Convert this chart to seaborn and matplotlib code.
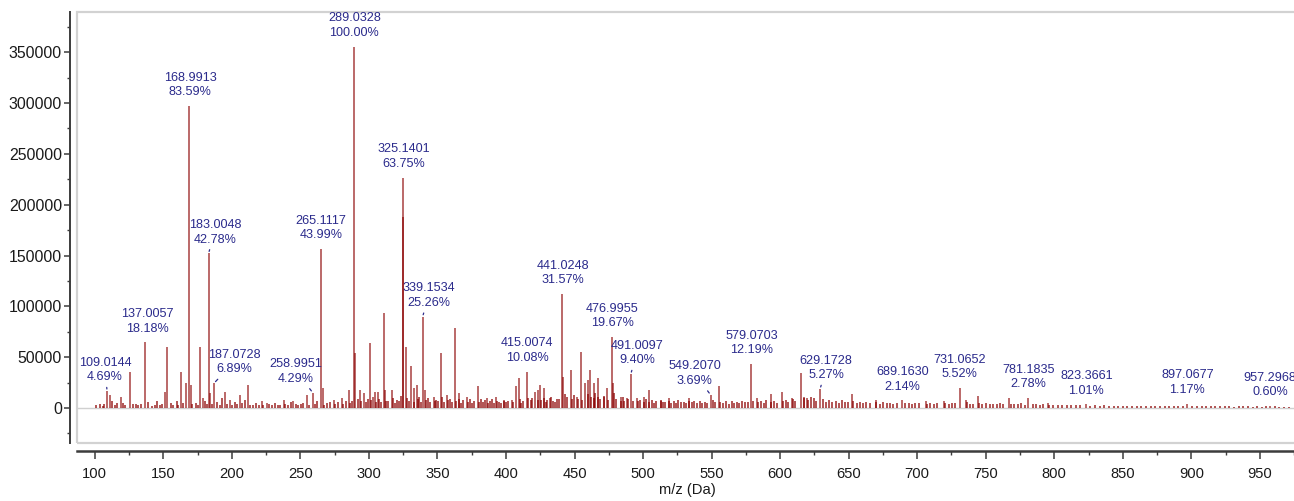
import matplotlib
matplotlib.use("Agg")
import matplotlib.pyplot as plt
from matplotlib import font_manager as fm
from matplotlib.ticker import MultipleLocator, FuncFormatter, FixedLocator
from matplotlib.patches import Rectangle
import seaborn as sns
import pandas as pd

# ---------------- data ----------------
label_mz = [109.0144, 137.0057, 168.9913, 183.0048, 187.0728, 258.9951, 265.1117,
            289.0328, 325.1401, 339.1534, 415.0074, 441.0248, 476.9955, 491.0097,
            549.2070, 579.0703, 629.1728, 689.1630, 731.0652, 781.1835, 823.3661,
            897.0677, 957.2968]
label_pct = [4.69, 18.18, 83.59, 42.78, 6.89, 4.29, 43.99,
             100.00, 63.75, 25.26, 10.08, 31.57, 19.67, 9.40,
             3.69, 12.19, 5.27, 2.14, 5.52, 2.78, 1.01,
             1.17, 0.60]
base_intensity = 355600

other_mz = [111.1, 119.1, 125.6, 151.3, 153.0, 163.0, 166.7, 170.3, 176.9, 179.3,
            184.2, 195.1, 198.8, 206.1, 211.7, 221.9, 225.5, 237.8, 245.0, 254.8,
            266.4, 274.3, 280.4, 285.2, 289.9, 293.7, 296.8, 301.0, 302.7, 304.6,
            307.0, 310.8, 312.0, 316.9, 324.6, 327.3, 331.0, 332.6, 335.0, 341.1,
            347.2, 352.6, 357.0, 363.1, 365.5, 371.6, 379.3, 386.2, 393.0, 398.4,
            404.5, 407.6, 409.3, 421.5, 423.1, 425.1, 427.5, 432.4, 441.5, 447.5,
            451.9, 455.1, 458.0, 459.7, 461.6, 464.0, 467.2, 471.3, 473.9, 478.2,
            483.6, 488.4, 495.7, 500.5, 504.2, 512.8, 518.9, 533.4, 555.4, 583.4,
            593.1, 601.6, 608.9, 615.3, 617.5, 619.9, 652.7, 669.8, 706.3, 719.6,
            735.6, 744.7, 767.2, 795.2]
other_int = [12800, 11100, 35800, 16000, 60400, 35800, 24600, 22700, 60400, 10000,
             15000, 16000, 8000, 13000, 22700, 6500, 5000, 8000, 6500, 13000,
             19700, 8000, 9500, 17700, 54000, 18000, 15000, 63800, 11000, 16000,
             16000, 93400, 17700, 17700, 188000, 60400, 41000, 19700, 23000, 17700,
             11000, 54000, 13000, 78600, 15000, 11000, 21700, 9900, 11000, 8000,
             8000, 21700, 29300, 16000, 17700, 22700, 19700, 9900, 30900, 37500,
             11000, 55500, 24700, 27900, 37500, 24700, 29300, 11000, 19700, 24700,
             11000, 9900, 9900, 11000, 18000, 6500, 9900, 10000, 21500, 10000,
             14000, 15500, 10000, 34800, 11000, 10000, 14000, 8000, 6600, 6600,
             8000, 12000, 9500, 5000]

noise_mz = [101.2, 103.5, 105.8, 107.1, 112.4, 114.9, 116.2, 120.7, 122.3, 127.6,
            129.8, 131.4, 133.9, 139.2, 141.5, 143.8, 145.3, 147.6, 149.1, 155.4,
            157.2, 159.8, 161.1, 164.4, 171.3, 173.6, 175.2, 180.1, 181.7, 185.5,
            189.3, 191.2, 192.8, 196.5, 200.4, 202.1, 203.9, 207.3, 209.5, 213.2,
            215.6, 217.4, 219.8, 223.1, 227.3, 229.5, 231.2, 233.8, 235.4, 239.1,
            241.3, 242.9, 246.5, 248.2, 250.6, 252.3, 256.1, 260.8, 262.4, 267.3,
            269.1, 271.4, 275.2, 277.5, 281.3, 283.0, 286.2, 287.6, 291.8, 294.5,
            297.7, 299.1, 301.4, 305.0, 307.6, 308.9, 312.8, 314.3, 317.5, 319.2,
            320.6, 322.1, 323.3, 327.8, 328.9, 332.7, 335.6, 336.9, 338.0, 341.6,
            343.2, 344.8, 347.9, 349.3, 350.5, 353.1, 354.6, 357.4, 359.2, 360.8,
            363.5, 366.1, 367.4, 368.9, 372.2, 373.8, 375.3, 376.9, 380.1, 381.6,
            383.2, 384.4, 386.7, 388.1, 389.6, 391.0, 393.5, 395.1, 396.3, 398.8,
            400.2, 401.7, 405.1, 409.9, 411.3, 412.7, 416.4, 417.9, 419.2, 423.2,
            425.3, 427.8, 429.1, 430.2, 432.6, 434.1, 435.5, 437.0, 438.4, 443.2,
            444.7, 448.1, 449.5, 452.3, 455.4, 459.7, 461.7, 464.2, 465.2, 467.4,
            468.8, 471.3, 474.1, 479.1, 480.6, 483.8, 485.3, 486.1, 488.7, 492.5,
            496.1, 497.6, 500.8, 502.1, 504.6, 506.2, 507.9, 509.4, 512.8, 514.3,
            516.1, 519.2, 520.7, 522.3, 524.1, 525.8, 527.4, 529.6, 531.2, 533.8,
            535.4, 537.1, 539.3, 541.6, 543.2, 545.1, 546.7, 550.9, 552.6, 556.2,
            558.1, 560.3, 562.4, 564.7, 566.2, 568.5, 570.3, 572.1, 574.4, 576.2,
            580.4, 583.6, 585.7, 587.9, 589.8, 593.4, 595.6, 597.8, 602.3, 604.5,
            606.1, 609.3, 611.2, 617.1, 620.4, 622.6, 624.8, 626.1, 631.2, 633.5,
            635.8, 638.1, 640.4, 642.7, 645.3, 647.6, 649.4, 653.2, 655.8, 658.1,
            660.4, 662.9, 665.3, 670.2, 672.8, 675.4, 677.9, 680.3, 682.6, 685.1,
            691.4, 693.8, 696.3, 698.7, 701.2, 707.1, 709.6, 712.3, 714.8, 720.4,
            723.1, 725.7, 727.9, 736.2, 738.8, 740.5, 745.1, 747.6, 750.2, 752.8,
            755.3, 757.9, 760.4, 762.8, 768.1, 770.7, 773.2, 775.8, 778.3, 784.2,
            786.9, 789.4, 791.8, 796.1, 799.2, 802.5, 805.8, 809.1, 812.4, 815.7,
            819.1, 826.4, 829.8, 833.1, 836.5, 839.9, 843.2, 846.6, 850.1, 853.4,
            856.8, 860.2, 863.5, 866.9, 870.3, 873.6, 877.1, 880.4, 883.8, 887.2,
            890.5, 893.9, 900.6, 904.1, 907.5, 910.8, 914.2, 917.6, 920.9, 924.3,
            927.7, 931.1, 934.4, 937.8, 941.2, 944.6, 947.9, 951.3, 954.1, 960.8,
            964.2, 967.5, 970.9]
noise_int = [2500, 3800, 2200, 4100, 6500, 3000, 4800, 5200, 2900, 3500,
             4200, 2600, 3900, 5600, 2400, 3300, 6800, 2800, 4400, 5100,
             3000, 7200, 2700, 4600, 3800, 5400, 2900, 6900, 4100, 3600,
             5800, 3200, 9500, 4300, 2800, 6100, 3500, 4900, 8200, 3100,
             2600, 5200, 3400, 2900, 3800, 2500, 4600, 3300, 2800, 4100,
             3200, 5800, 4400, 2900, 3600, 5100, 2700, 3900, 6800, 3400,
             4900, 6200, 3800, 5500, 4100, 7300, 5200, 6600, 8800, 7100,
             5600, 9200, 7800, 6300, 8500, 5900, 7400, 6800, 9600, 5300,
             8100, 6700, 12000, 9800, 7200, 6400, 8900, 10500, 6100, 7700,
             9400, 5800, 6900, 8200, 7100, 10800, 6300, 7500, 9100, 5600,
             6800, 8400, 5200, 7600, 6100, 9300, 4800, 7000, 5500, 8600,
             6200, 7900, 4700, 6600, 8800, 5300, 7200, 6000, 4500, 6900,
             5800, 7400, 6300, 8900, 5100, 6700, 9700, 7500, 10200, 8300,
             7800, 9600, 6400, 8100, 11200, 7000, 5900, 8600, 9300, 14000,
             10500, 8800, 12600, 9100, 7700, 13800, 10400, 9900, 15200, 11300,
             8700, 12100, 7600, 14500, 9300, 7100, 10800, 6800, 8400, 7400,
             6900, 8200, 5700, 9100, 6400, 7800, 5300, 6600, 7500, 5900,
             6200, 7100, 5400, 6800, 4900, 7600, 5800, 6300, 5100, 7000,
             5600, 6700, 4800, 7300, 5200, 6100, 4600, 8200, 5900, 6400,
             5000, 6600, 4400, 7100, 5300, 5800, 4700, 6900, 5500, 6200,
             7400, 5600, 6800, 5100, 8300, 6000, 7200, 5400, 6500, 7900,
             6100, 8800, 7300, 9400, 8200, 10800, 9600, 7400, 8700, 6300,
             7600, 5800, 6900, 5200, 7800, 6100, 5500, 6800, 5000, 5900,
             4800, 6300, 5100, 5600, 4400, 5900, 4700, 5300, 4200, 5000,
             4600, 5200, 3900, 4800, 5400, 4300, 5000, 3800, 4500, 4900,
             4200, 5100, 4600, 5700, 4400, 3900, 5300, 4100, 4800, 3700,
             4300, 3600, 4700, 4000, 3500, 4200, 3800, 4500, 3300, 3900,
             3600, 3100, 3800, 2900, 3400, 2700, 3200, 2600, 3000, 2500,
             2800, 2400, 2600, 2200, 2500, 2100, 2400, 2000, 2300, 1900,
             2200, 1800, 2100, 1900, 2300, 1700, 2000, 1800, 2400, 1900,
             2100, 2300, 1900, 1700, 2000, 1800, 2100, 1600, 1900, 1700,
             1800, 1500, 1700, 1900, 1600, 1400, 1700, 1500, 1800, 1600,
             1400, 1500, 1300]

x_ticks = [100, 150, 200, 250, 300, 350, 400, 450, 500, 550, 600, 650, 700, 750,
           800, 850, 900, 950]
y_ticks = [0, 50000, 100000, 150000, 200000, 250000, 300000, 350000]
x_title = "m/z (Da)"

# ---------------- layout (label placement, pixels) ----------------
label_dx = [-2, 1.5, 1, 6.5, 20, -16.5, 0, 0.5, 0.5, 6.5, 0.5, 0.5, 0.5, 6.5,
            -16, 0, 6, 0, 0, 0, 0, 0, 0]
label_leader = [True, False, False, True, True, True, False, False, False, True,
                False, False, False, True, True, False, True, False, False, False,
                False, False, False]
label_dy = 21

# ---------------- style ----------------
sns.set_theme(style="white")
names = {f.name for f in fm.fontManager.ttflist}
if "Liberation Sans Narrow" in names:
    FAM, k = "Liberation Sans Narrow", 1.0
else:
    FAM, k = "Liberation Sans", 0.84
plt.rcParams["font.family"] = [FAM, "DejaVu Sans"]

PEAK = "#8B0000"
TXT = "#2B2B8C"
AX = "#3c3c3c"

labels_df = pd.DataFrame({"mz": label_mz, "pct": label_pct})
labels_df["intensity"] = labels_df["pct"] / 100.0 * base_intensity
noise_df = pd.DataFrame({"mz": noise_mz, "intensity": noise_int})
peaks_df = pd.concat([
    pd.DataFrame({"mz": other_mz, "intensity": other_int}),
    labels_df[["mz", "intensity"]],
], ignore_index=True)

fig = plt.figure(figsize=(12.94, 5.01), dpi=100)
ax = fig.add_axes([77 / 1294, 1 - 443.3 / 501, 1.003 - 77 / 1294, (443.3 - 11.7) / 501])

ax.set_xlim(87.07, 977.7)
ax.set_ylim(-34700, 389900)

# zero baseline
ax.axhline(0, color="#d0d0d0", lw=1.0, zorder=1)

ax.vlines(noise_df["mz"], 0, noise_df["intensity"], color=PEAK, lw=1.1,
          alpha=0.85, zorder=2)
ax.vlines(peaks_df["mz"], 0, peaks_df["intensity"], color=PEAK, lw=1.1,
          alpha=0.75, zorder=3)

# frame
ax.add_patch(Rectangle((0, 0), 1, 1, transform=ax.transAxes, fill=False,
                       ec="#d2d2d2", lw=1.6, clip_on=False, zorder=0))

for s in ["top", "right"]:
    ax.spines[s].set_visible(False)
ax.spines["left"].set_position(("outward", 4.8))
ax.spines["bottom"].set_position(("outward", 5.3))
ax.spines["left"].set_color(AX)
ax.spines["bottom"].set_color(AX)
ax.spines["left"].set_linewidth(1.4)
ax.spines["bottom"].set_linewidth(1.8)

ax.xaxis.set_major_locator(FixedLocator(x_ticks))
ax.xaxis.set_minor_locator(MultipleLocator(25))
ax.yaxis.set_major_locator(FixedLocator(y_ticks))
ax.yaxis.set_minor_locator(MultipleLocator(25000))
ax.yaxis.set_major_formatter(FuncFormatter(lambda v, p: f"{int(round(v))}"))

ax.tick_params(axis="y", which="major", length=4.5, width=1.1, color=AX,
               labelsize=13.6 * k, labelcolor="#1a1a1a", pad=1.5, left=True)
ax.tick_params(axis="y", which="minor", length=2.5, width=1.0, color=AX, left=True)
ax.tick_params(axis="x", which="major", length=5.5, width=1.1, color=AX,
               labelsize=12.6 * k, labelcolor="#1a1a1a", pad=6, bottom=True)
ax.tick_params(axis="x", which="minor", length=3.0, width=1.0, color=AX, bottom=True)

ax.set_xlabel(x_title, fontsize=12.6 * k, color="#1a1a1a", labelpad=2)
ax.set_ylabel("")

for i, row in labels_df.iterrows():
    txt = f"{row['mz']:.4f}\n{row['pct']:.2f}%"
    arrow = None
    if label_leader[i]:
        arrow = dict(arrowstyle="-", color=TXT, lw=0.9, shrinkA=0.5, shrinkB=1.5)
    ax.annotate(txt, xy=(row["mz"], row["intensity"]),
                xytext=(label_dx[i], label_dy), textcoords="offset pixels",
                ha="center", va="center", fontsize=10.8 * k, color=TXT,
                linespacing=1.3, arrowprops=arrow, zorder=5,
                annotation_clip=False)

fig.savefig("out.png", dpi=100)
